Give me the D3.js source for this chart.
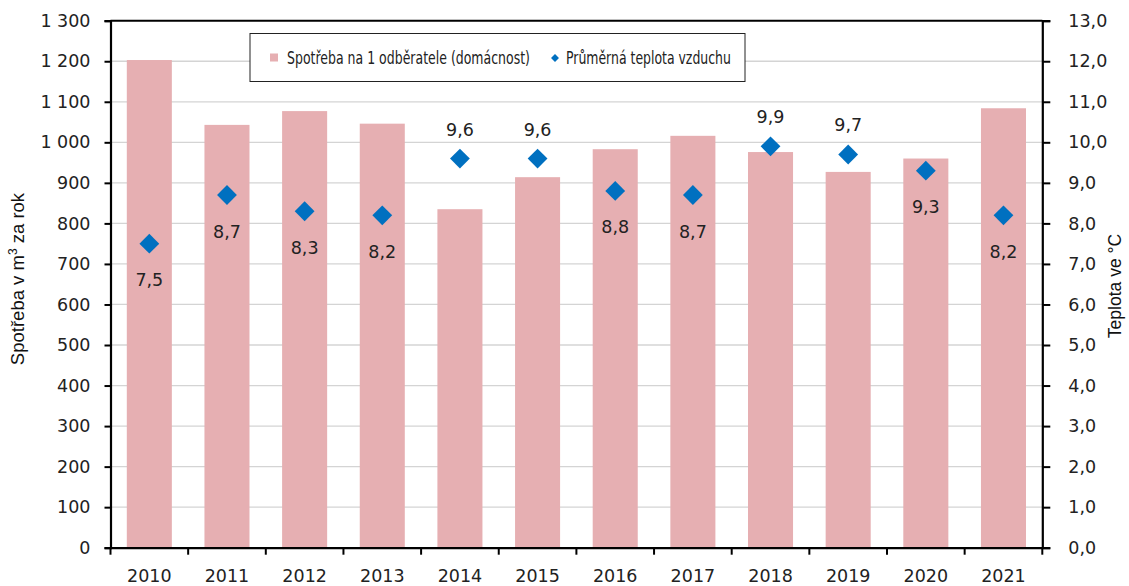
<!DOCTYPE html>
<html>
<head>
<meta charset="utf-8">
<script src="https://cdn.jsdelivr.net/npm/d3@7"></script>
<style>
  body { margin: 0; background: #fff; }
  svg { display: block; }
  .tick text { font-family: "DejaVu Sans", sans-serif; font-size: 17.5px; fill: #222; }
</style>
</head>
<body>
<svg id="chart"></svg>
<script>
// chart data
var years = ["2010", "2011", "2012", "2013", "2014", "2015", "2016", "2017", "2018", "2019", "2020", "2021"];
var consumption = [1203, 1043, 1077, 1046, 835, 914, 983, 1016, 976, 927, 960, 1084];
var temperature = [7.5, 8.7, 8.3, 8.2, 9.6, 9.6, 8.8, 8.7, 9.9, 9.7, 9.3, 8.2];
var labelSide = ["below", "below", "below", "below", "above", "above", "below", "below", "above", "above", "below", "below"];
var leftTicks = [0, 100, 200, 300, 400, 500, 600, 700, 800, 900, 1000, 1100, 1200, 1300];
var rightTicks = [0, 1, 2, 3, 4, 5, 6, 7, 8, 9, 10, 11, 12, 13];
var barName = "Spotřeba na 1 odběratele (domácnost)";
var tempName = "Průměrná teplota vzduchu";

var svgWidth = 1129, svgHeight = 586;
var margin = {top: 20.7, right: 1129 - 1042.3, bottom: 586 - 547.7, left: 110.5};
var chartWidth = svgWidth - margin.left - margin.right;
var chartHeight = svgHeight - margin.top - margin.bottom;

var barColour = "#e6afb2";
var pointColour = "#0070c0";

var czech = d3.formatLocale({decimal: ",", thousands: "\u00a0", grouping: [3], currency: ["", " Kč"]});

var svg = d3.select('#chart')
    .attr("width", svgWidth)
    .attr("height", svgHeight);

var chart = svg.append('g')
    .attr('transform', `translate(${margin.left}, ${margin.top})`);

var xScale = d3.scaleBand()
    .domain(years)
    .range([0, chartWidth])
    .paddingInner(0.42)
    .paddingOuter(0.21);

var yLeft = d3.scaleLinear().domain([0, 1300]).range([chartHeight, 0]);
var yRight = d3.scaleLinear().domain([0, 13]).range([chartHeight, 0]);

// gridlines
chart.append('g')
    .selectAll('line')
    .data(leftTicks.slice(1, -1))
    .join('line')
    .attr('x1', 0)
    .attr('x2', chartWidth)
    .attr('y1', d => yLeft(d))
    .attr('y2', d => yLeft(d))
    .attr('stroke', '#d4d4d4')
    .attr('stroke-width', 1.3);

// bars
chart.append('g')
    .selectAll('rect')
    .data(consumption)
    .join('rect')
    .attr('x', (d, i) => xScale(years[i]))
    .attr('y', d => yLeft(d))
    .attr('width', xScale.bandwidth())
    .attr('height', d => chartHeight - yLeft(d))
    .attr('fill', barColour);

// top border
chart.append('line')
    .attr('x1', 0).attr('x2', chartWidth)
    .attr('y1', 0).attr('y2', 0)
    .attr('stroke', '#000').attr('stroke-width', 2);

// axes
var leftAxis = chart.append('g')
    .call(d3.axisLeft(yLeft).tickValues(leftTicks).tickSize(6).tickPadding(14).tickFormat(czech.format(",d")));

var rightAxis = chart.append('g')
    .attr('transform', `translate(${chartWidth}, 0)`)
    .call(d3.axisRight(yRight).tickValues(rightTicks).tickSize(8).tickPadding(18).tickFormat(czech.format(".1f")));

var xBoundaries = years.map(y => xScale(y) - xScale.step() * xScale.paddingInner() / 2).concat([chartWidth]);
var bottomAxis = chart.append('g')
    .attr('transform', `translate(0, ${chartHeight})`)
    .call(d3.axisBottom(xScale).tickSize(0).tickPadding(18));

bottomAxis.selectAll('.tick text').attr('dy', '0.95em');

bottomAxis.selectAll('.boundary')
    .data(xBoundaries)
    .join('line')
    .attr('class', 'boundary')
    .attr('x1', d => d).attr('x2', d => d)
    .attr('y1', 0).attr('y2', 7)
    .attr('stroke', '#000').attr('stroke-width', 2);

[leftAxis, rightAxis, bottomAxis].forEach(function(axis) {
    axis.select('.domain').attr('stroke', '#000').attr('stroke-width', 2.2);
    axis.selectAll('.tick line').attr('stroke', '#000').attr('stroke-width', 2);
});

// temperature points
var diamond = d3.symbol().type(d3.symbolDiamond2).size(250);
chart.append('g')
    .selectAll('path')
    .data(temperature)
    .join('path')
    .attr('d', diamond)
    .attr('transform', (d, i) => `translate(${xScale(years[i]) + xScale.bandwidth() / 2}, ${yRight(d)})`)
    .attr('fill', pointColour);

chart.append('g')
    .selectAll('text')
    .data(temperature)
    .join('text')
    .attr('x', (d, i) => xScale(years[i]) + xScale.bandwidth() / 2)
    .attr('y', (d, i) => yRight(d) + (labelSide[i] == "above" ? -23 : 42.5))
    .attr('text-anchor', 'middle')
    .style('font-family', '"DejaVu Sans", sans-serif')
    .style('font-size', '17.5px')
    .attr('fill', '#222')
    .text(d => czech.format(".1f")(d));

// axis titles
var leftTitle = svg.append('text')
    .attr('transform', 'translate(24, 279) rotate(-90)')
    .attr('text-anchor', 'middle')
    .style('font-family', '"Liberation Sans", Arial, sans-serif')
    .style('font-size', '18.5px')
    .attr('fill', '#111');
leftTitle.append('tspan').text('Spotřeba v m');
leftTitle.append('tspan').attr('dy', -7).style('font-size', '12px').text('3');
leftTitle.append('tspan').attr('dy', 7).text(' za rok');

svg.append('text')
    .attr('transform', 'translate(1121, 286) rotate(-90)')
    .attr('text-anchor', 'middle')
    .style('font-family', '"Liberation Sans", Arial, sans-serif')
    .style('font-size', '17.5px')
    .attr('fill', '#111')
    .text('Teplota ve °C');

// legend
var legend = svg.append('g').attr('transform', 'translate(250, 33.5)');
legend.append('rect')
    .attr('width', 495).attr('height', 48)
    .attr('fill', '#fff').attr('stroke', '#222').attr('stroke-width', 1);
legend.append('rect')
    .attr('x', 20).attr('y', 20).attr('width', 8).attr('height', 8)
    .attr('fill', barColour);
legend.append('path')
    .attr('d', d3.symbol().type(d3.symbolDiamond2).size(40))
    .attr('transform', 'translate(305, 24.5)')
    .attr('fill', pointColour);

// squeeze legend labels to the narrow width of the original font
function squeezedLabel(x, width, label) {
    var g = legend.append('g');
    var t = g.append('text')
        .attr('y', 31)
        .style('font-family', '"DejaVu Sans", sans-serif')
        .style('font-size', '18px')
        .attr('fill', '#222')
        .text(label);
    var natural = t.node().getComputedTextLength();
    g.attr('transform', `translate(${x}, 0) scale(${width / natural}, 1)`);
}
squeezedLabel(37, 243, barName);
squeezedLabel(316, 165, tempName);
</script>
</body>
</html>
